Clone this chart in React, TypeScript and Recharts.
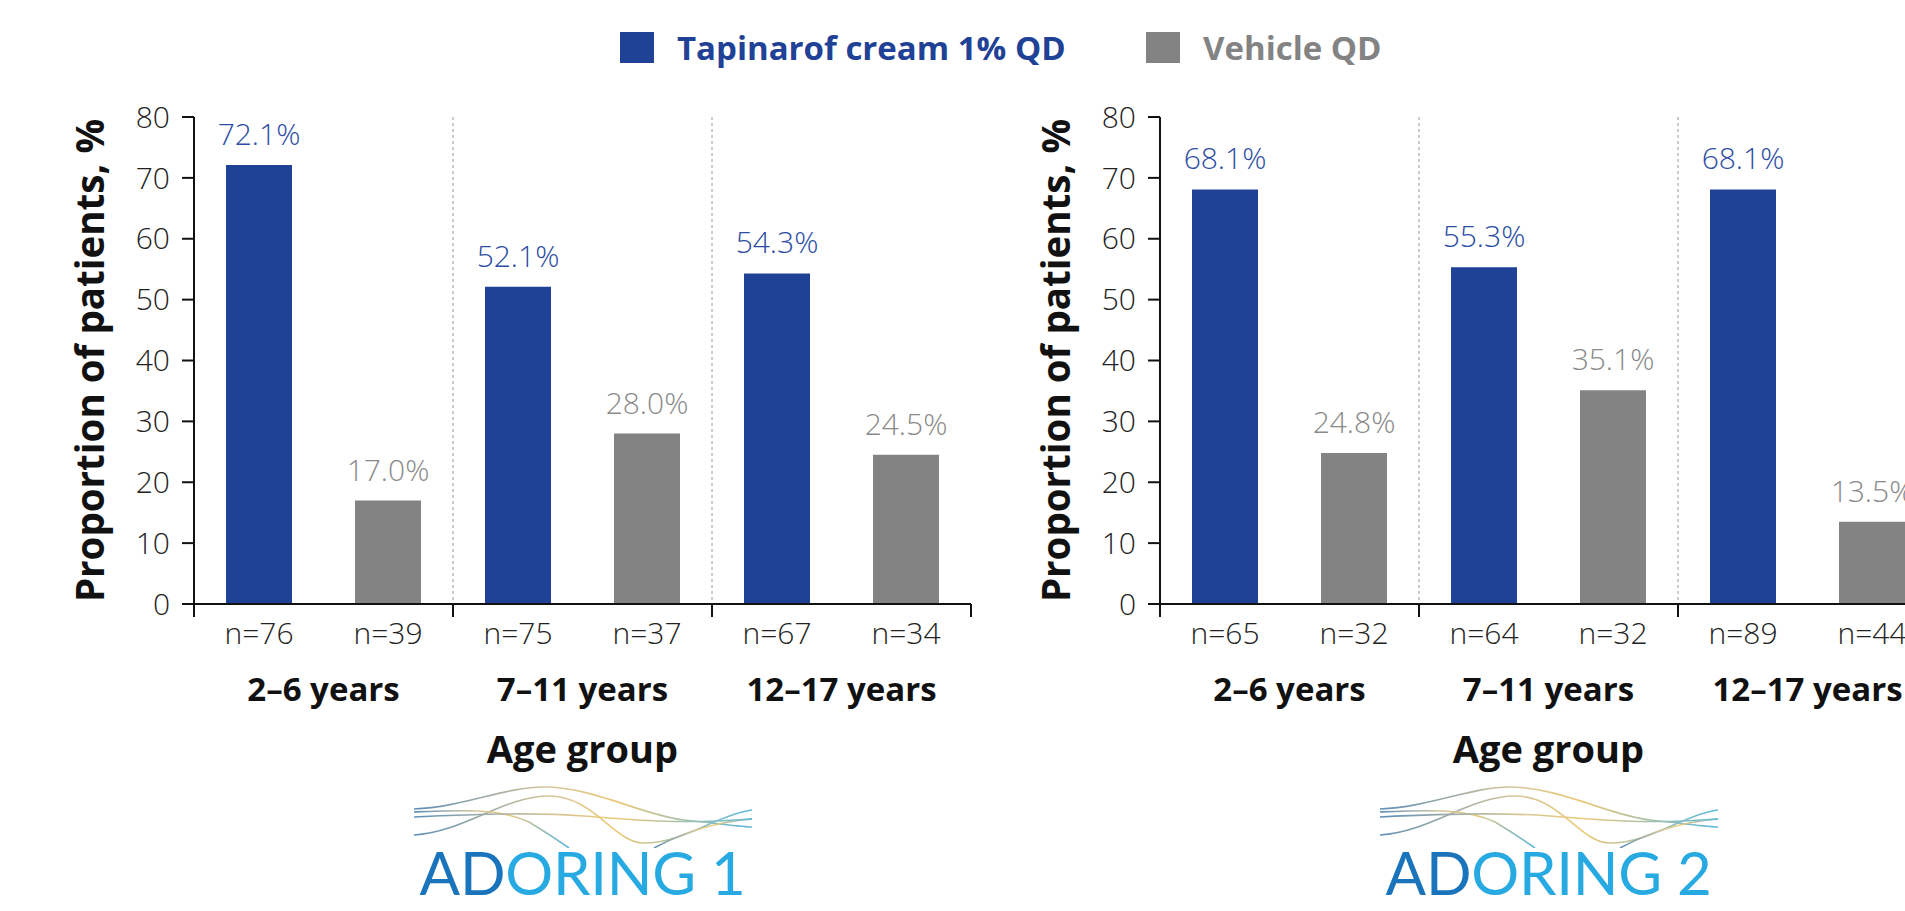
import React from 'react';
import { BarChart, Bar, XAxis, YAxis, CartesianGrid, LabelList, Label } from 'recharts';

const groups = ['2–6 years', '7–11 years', '12–17 years'];
const seriesNames = ['Tapinarof cream 1% QD', 'Vehicle QD'];
const yTicks = [0, 10, 20, 30, 40, 50, 60, 70, 80];

// ADORING 1
const a1Tapinarof = [72.1, 52.1, 54.3];
const a1Vehicle = [17.0, 28.0, 24.5];
const a1TapinarofN = [76, 75, 67];
const a1VehicleN = [39, 37, 34];

// ADORING 2
const a2Tapinarof = [68.1, 55.3, 68.1];
const a2Vehicle = [24.8, 35.1, 13.5];
const a2TapinarofN = [65, 64, 89];
const a2VehicleN = [32, 32, 44];

const BLUE = '#1f4196';
const GREY = '#838383';
const FONT = '"Open Sans", "Noto Sans", sans-serif';

const CHART_W = 1000;
const CHART_H = 911;
const MARGIN = { top: 117, right: 29, bottom: 247, left: 94 };
const YAXIS_W = 100;
const PLOT_W = CHART_W - MARGIN.left - MARGIN.right - YAXIS_W;
const BAND = PLOT_W / groups.length;

const buildData = (tap: number[], veh: number[], tapN: number[], vehN: number[]) =>
  groups.map((g, i) => ({ group: g, tap: tap[i], veh: veh[i], tapN: tapN[i], vehN: vehN[i] }));

const GroupTick = (props: any) => {
  const { x, y, payload } = props;
  const half = BAND / 2;
  return (
    <g>
      <line x1={x - half} y1={y} x2={x - half} y2={y + 13} stroke="#111" strokeWidth={2} />
      <line x1={x + half} y1={y} x2={x + half} y2={y + 13} stroke="#111" strokeWidth={2} />
      <text x={x} y={y + 97} textAnchor="middle" fontSize={33} fontWeight={700} fill="#111" fontFamily={FONT}>
        {payload.value}
      </text>
    </g>
  );
};

const valueLabel = (color: string) => (props: any) => {
  const { x, y, width, value } = props;
  return (
    <text x={x + width / 2} y={y - 20} textAnchor="middle" fontSize={30} fontWeight={300} fill={color} fontFamily={FONT}>
      {Number(value).toFixed(1)}%
    </text>
  );
};

const NLabel = (props: any) => {
  const { x, y, width, height, value } = props;
  return (
    <text x={x + width / 2} y={y + height + 40} textAnchor="middle" fontSize={30} fontWeight={300} fill="#222" fontFamily={FONT}>
      n={value}
    </text>
  );
};

const YTitle = (props: any) => {
  const { viewBox } = props;
  const cx = viewBox.x + viewBox.width - 105;
  const cy = viewBox.y + viewBox.height / 2;
  return (
    <text x={cx} y={cy} transform={`rotate(-90 ${cx} ${cy})`} textAnchor="middle" dominantBaseline="central"
      fontSize={38.5} fontWeight={700} fill="#111" fontFamily={FONT}>
      Proportion of patients, %
    </text>
  );
};

const XTitle = (props: any) => {
  const { viewBox } = props;
  return (
    <text x={viewBox.x + viewBox.width / 2} y={viewBox.y + 159} textAnchor="middle" fontSize={38} fontWeight={700}
      fill="#111" fontFamily={FONT}>
      Age group
    </text>
  );
};

const Waves = () => (
  <svg width={338} height={62} style={{ display: 'block', margin: '0 auto' }}>
    <defs>
      <linearGradient id="wv" x1="0" y1="0" x2="1" y2="0">
        <stop offset="0%" stopColor="#5f8fb6" />
        <stop offset="40%" stopColor="#d6c69a" />
        <stop offset="60%" stopColor="#ecc978" />
        <stop offset="100%" stopColor="#5cb7de" />
      </linearGradient>
    </defs>
    <g fill="none" stroke="url(#wv)" strokeWidth={1.6}>
      <path d="M0,23 C50,21 90,1 130,1 C180,1 230,30 270,34 C300,37 320,40 338,41" />
      <path d="M0,49 C50,46 90,10 135,10 C180,10 200,57 230,57 C270,57 300,30 338,24" />
      <path d="M0,26 C45,24 85,22 115,36 C130,45 145,55 155,62" />
      <path d="M0,31 C60,28 120,26 170,30 C230,35 270,38 338,33" />
      <path d="M240,62 C270,46 300,36 338,33" />
    </g>
  </svg>
);

const Logo = ({ num }: { num: string }) => (
  <div style={{ width: 400, textAlign: 'center' }}>
    <Waves />
    <div style={{ fontFamily: 'Lato, "Open Sans", sans-serif', fontSize: 60, lineHeight: '60px', marginTop: -6, letterSpacing: -0.3, whiteSpace: 'nowrap' }}>
      <span style={{ color: '#1a74bb' }}>AD</span>
      <span style={{ color: '#27a9e1' }}>ORING {num}</span>
    </div>
  </div>
);

const Panel = ({ left, data, num }: { left: number; data: any[]; num: string }) => (
  <div style={{ position: 'absolute', left, top: 0, width: CHART_W, height: CHART_H }}>
    <BarChart width={CHART_W} height={CHART_H} data={data} margin={MARGIN} barSize={66} barGap={63}>
      <CartesianGrid
        horizontal={false}
        stroke="#9a9a9a"
        strokeDasharray="3 3"
        verticalCoordinatesGenerator={({ offset }: any) =>
          groups.slice(1).map((_, i) => offset.left + (offset.width * (i + 1)) / groups.length)
        }
      />
      <XAxis dataKey="group" height={60} tickLine={false} tickSize={0} tickMargin={0} interval={0}
        axisLine={{ stroke: '#111', strokeWidth: 2 }} tick={<GroupTick />}>
        <Label content={<XTitle />} />
      </XAxis>
      <YAxis width={YAXIS_W} domain={[0, 80]} ticks={yTicks} interval={0} tickSize={12} tickMargin={12}
        axisLine={{ stroke: '#111', strokeWidth: 2 }} tickLine={{ stroke: '#111', strokeWidth: 2 }}
        tick={{ fontSize: 30, fontWeight: 300, fill: '#222', fontFamily: FONT }}>
        <Label content={<YTitle />} />
      </YAxis>
      <Bar dataKey="tap" name={seriesNames[0]} fill={BLUE} isAnimationActive={false}>
        <LabelList dataKey="tap" content={valueLabel('#2c4ca3')} />
        <LabelList dataKey="tapN" content={<NLabel />} />
      </Bar>
      <Bar dataKey="veh" name={seriesNames[1]} fill={GREY} isAnimationActive={false}>
        <LabelList dataKey="veh" content={valueLabel('#8a8a8a')} />
        <LabelList dataKey="vehN" content={<NLabel />} />
      </Bar>
    </BarChart>
    <div style={{ position: 'absolute', left: MARGIN.left + YAXIS_W + PLOT_W / 2 - 200, top: 786 }}>
      <Logo num={num} />
    </div>
  </div>
);

const LegendItem = ({ color, text }: { color: string; text: string }) => (
  <div style={{ display: 'flex', alignItems: 'center' }}>
    <div style={{ width: 34, height: 31, background: color, marginRight: 23 }} />
    <span style={{ color, fontSize: 33, fontWeight: 700, fontFamily: FONT }}>{text}</span>
  </div>
);

export default function App() {
  const d1 = buildData(a1Tapinarof, a1Vehicle, a1TapinarofN, a1VehicleN);
  const d2 = buildData(a2Tapinarof, a2Vehicle, a2TapinarofN, a2VehicleN);
  return (
    <div style={{ position: 'absolute', left: 0, top: 0, width: 1905, height: 911, overflow: 'hidden', background: '#fff' }}>
      <div style={{ position: 'absolute', left: 620, top: 25, display: 'flex' }}>
        <div style={{ width: 526 }}>
          <LegendItem color={BLUE} text={seriesNames[0]} />
        </div>
        <LegendItem color={GREY} text={seriesNames[1]} />
      </div>
      <Panel left={0} data={d1} num="1" />
      <Panel left={966} data={d2} num="2" />
    </div>
  );
}
